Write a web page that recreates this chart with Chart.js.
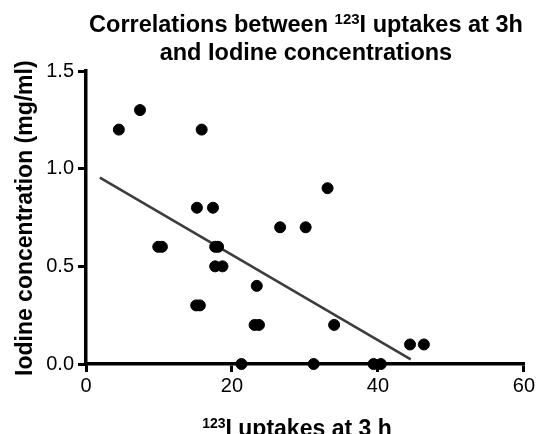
<!DOCTYPE html>
<html>
<head>
<meta charset="utf-8">
<script src="https://cdn.jsdelivr.net/npm/chart.js@4.4.0/dist/chart.umd.min.js"></script>
<style>
  html, body { margin: 0; padding: 0; background: #fff; }
  #wrap { width: 537px; height: 434px; }
</style>
</head>
<body>
<div id="wrap"><canvas id="scatter"></canvas></div>
<script>
// 123I uptake at 3 h (x) vs iodine concentration in mg/ml (y)
const uptakes = [4.5, 7.4, 9.9, 10.4, 15.1, 15.6, 15.2, 15.85, 17.4, 17.7, 18.1, 17.7, 18.7,
  21.3, 23.1, 23.7, 23.4, 26.6, 30.1, 31.2, 33.1, 34.0, 39.4, 40.4, 44.4, 46.3];
const iodine = [1.2, 1.3, 0.6, 0.6, 0.3, 0.3, 0.8, 1.2, 0.8, 0.6, 0.6, 0.5, 0.5,
  0, 0.2, 0.2, 0.4, 0.7, 0.7, 0, 0.9, 0.2, 0, 0, 0.1, 0.1];

// regression line end points
const fitX = [1.9, 44.5];
const fitY = [0.954, 0.024];

const xTicks = [0, 20, 40, 60];
const yTicks = [0, 0.5, 1.0, 1.5];

const FONT = "'Liberation Sans', Arial, Helvetica, sans-serif";

// draws a line of text where the "123" part is a superscript
function drawSup(ctx, parts, x, y, size, align) {
  const bigFont = "bold " + size + "px " + FONT;
  const supSize = Math.round(size * 0.62);
  const supFont = "bold " + supSize + "px " + FONT;
  let width = 0;
  parts.forEach((p) => {
    ctx.font = p.sup ? supFont : bigFont;
    p.w = ctx.measureText(p.text).width;
    width += p.w;
  });
  let cx = align === "center" ? x - width / 2 : x;
  ctx.textAlign = "left";
  ctx.textBaseline = "alphabetic";
  parts.forEach((p) => {
    ctx.font = p.sup ? supFont : bigFont;
    ctx.fillText(p.text, cx, p.sup ? y - size * 0.36 : y);
    cx += p.w;
  });
}

const labelsPlugin = {
  id: "labels",
  afterDraw(chart) {
    const ctx = chart.ctx;
    const area = chart.chartArea;
    const mid = (area.left + area.right) / 2;
    ctx.save();
    ctx.fillStyle = "#000";
    drawSup(ctx, [
      { text: "Correlations between " },
      { text: "123", sup: true },
      { text: "I uptakes at 3h" },
    ], mid + 1, 32, 23.5, "center");
    drawSup(ctx, [{ text: "and Iodine concentrations" }], mid + 1, 60, 23.5, "center");
    drawSup(ctx, [
      { text: "123", sup: true },
      { text: "I uptakes at 3 h" },
    ], mid - 8, 436, 23, "center");

    ctx.translate(32, 376);
    ctx.rotate(-Math.PI / 2);
    ctx.font = "bold 23px " + FONT;
    ctx.textAlign = "left";
    ctx.textBaseline = "alphabetic";
    ctx.fillText("Iodine concentration (mg/ml)", 0, 0);
    ctx.restore();
  },
};

const points = uptakes.map((x, i) => ({ x: x, y: iodine[i] }));
const fitLine = fitX.map((x, i) => ({ x: x, y: fitY[i] }));

const axisGrid = {
  drawOnChartArea: false,
  drawTicks: true,
  tickLength: 8,
  color: "#000",
  lineWidth: 3,
};

new Chart(document.getElementById("scatter"), {
  type: "scatter",
  data: {
    datasets: [
      {
        label: "Iodine",
        data: points,
        backgroundColor: "#000",
        borderColor: "#000",
        pointRadius: 5.5,
        pointHoverRadius: 5.5,
        clip: false,
      },
      {
        type: "line",
        label: "Fit",
        data: fitLine,
        borderColor: "#3c3c3c",
        borderWidth: 2.5,
        pointRadius: 0,
        fill: false,
        clip: false,
      },
    ],
  },
  options: {
    responsive: true,
    maintainAspectRatio: false,
    animation: false,
    layout: { padding: { top: 71, right: 12, left: 0, bottom: 0 } },
    plugins: {
      legend: { display: false },
      tooltip: { enabled: false },
      title: { display: false },
    },
    scales: {
      x: {
        type: "linear",
        min: 0,
        max: 60,
        afterFit: (scale) => { scale.height = 70; },
        afterBuildTicks: (scale) => { scale.ticks = xTicks.map((v) => ({ value: v })); },
        grid: axisGrid,
        border: { display: true, color: "#000", width: 3.5 },
        ticks: {
          color: "#000",
          padding: 2,
          font: { family: FONT, size: 20 },
        },
      },
      y: {
        type: "linear",
        min: 0,
        max: 1.5,
        afterFit: (scale) => { scale.width = 86; },
        afterBuildTicks: (scale) => { scale.ticks = yTicks.map((v) => ({ value: v })); },
        grid: axisGrid,
        border: { display: true, color: "#000", width: 3.5 },
        ticks: {
          color: "#000",
          padding: 4,
          font: { family: FONT, size: 20 },
          callback: (v) => v.toFixed(1),
        },
      },
    },
  },
  plugins: [labelsPlugin],
});
</script>
</body>
</html>
